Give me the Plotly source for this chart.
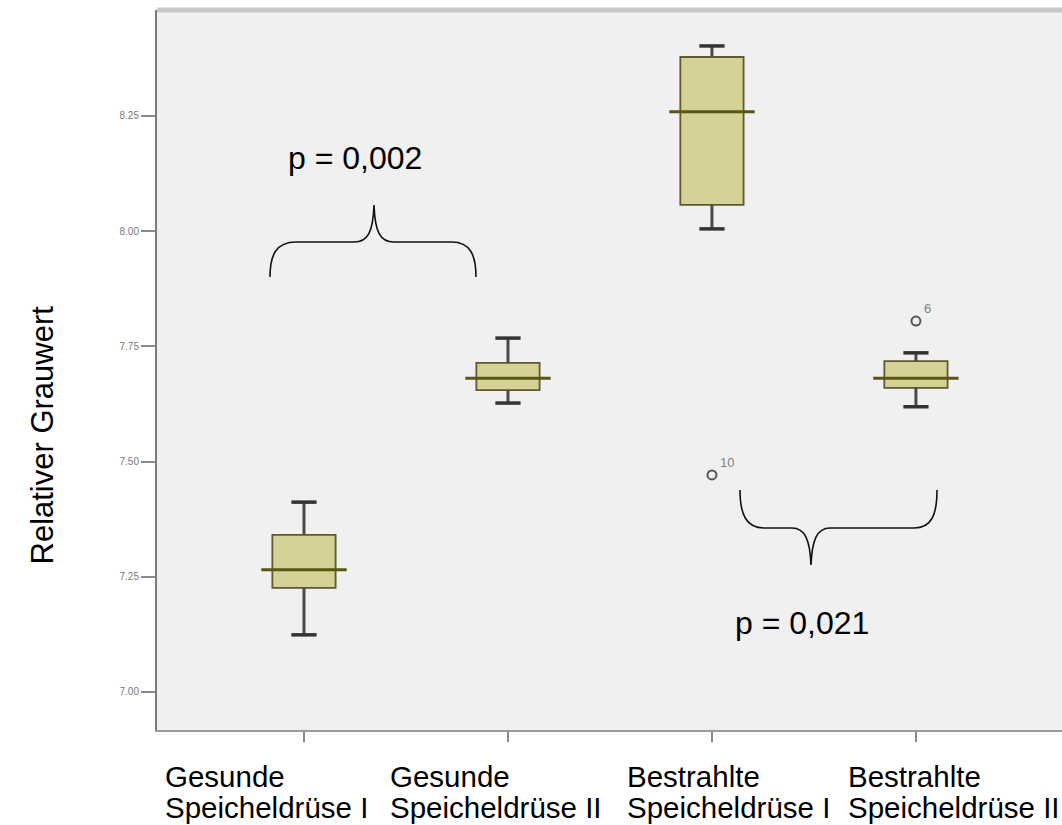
import plotly.graph_objects as go

categories = ["Gesunde Speicheldrüse I", "Gesunde Speicheldrüse II",
              "Bestrahlte Speicheldrüse I", "Bestrahlte Speicheldrüse II"]
label_line1 = ["Gesunde", "Gesunde", "Bestrahlte", "Bestrahlte"]
label_line2 = ["Speicheldrüse I", "Speicheldrüse II", "Speicheldrüse I", "Speicheldrüse II"]
lower_whisker = [7.124, 7.627, 8.005, 7.619]
q1 = [7.226, 7.655, 8.057, 7.660]
median = [7.265, 7.681, 8.259, 7.681]
q3 = [7.341, 7.714, 8.378, 7.718]
upper_whisker = [7.412, 7.768, 8.402, 7.736]
outlier_cat = [2, 3]
outlier_val = [7.471, 7.805]
outlier_id = ["10", "6"]
y_ticks = [7.00, 7.25, 7.50, 7.75, 8.00, 8.25]
p_values = ["p = 0,002", "p = 0,021"]

OFF = 0  # body margin removed via post_script
W, H = 1062, 825
L, R, T, B = 157, 0, 10, 95
x_range = [-0.7206, 3.716]
y_range = [6.9175, 8.48]

def px2x(px):
    return x_range[0] + (px - OFF - L) / (W - L - R) * (x_range[1] - x_range[0])

def px2y(py):
    return y_range[1] - (py - OFF - T) / (H - T - B) * (y_range[1] - y_range[0])

def ppx(px):
    return (px - OFF - L) / (W - L - R)

def ppy(py):
    return (H - B - (py - OFF)) / (H - T - B)

n = len(categories)
xs = list(range(n))
fig = go.Figure()
fill = "#d6d196"
edge = "#5e5a30"

# whiskers (dark grey, thick)
fig.add_trace(go.Scatter(
    x=xs, y=q3, mode="markers", marker=dict(size=1, color="rgba(0,0,0,0)"),
    error_y=dict(type="data", symmetric=False, array=[u - q for u, q in zip(upper_whisker, q3)],
                 arrayminus=[0] * n, width=0, thickness=3, color="#4a4a4a"),
    showlegend=False, hoverinfo="skip"))
fig.add_trace(go.Scatter(
    x=xs, y=q1, mode="markers", marker=dict(size=1, color="rgba(0,0,0,0)"),
    error_y=dict(type="data", symmetric=False, array=[0] * n,
                 arrayminus=[q - l for q, l in zip(q1, lower_whisker)], width=0, thickness=3, color="#4a4a4a"),
    showlegend=False, hoverinfo="skip"))

for i in range(n):
    fig.add_trace(go.Box(
        x=[i], q1=[q1[i]], median=[median[i]], q3=[q3[i]],
        lowerfence=[lower_whisker[i]], upperfence=[upper_whisker[i]],
        width=0.31, whiskerwidth=0.0, fillcolor=fill,
        line=dict(color=edge, width=1.8), boxpoints=False,
        showlegend=False, hoverinfo="skip"))

# thick median lines
fig.add_trace(go.Scatter(
    x=xs, y=median, mode="markers",
    marker=dict(symbol="line-ew", size=61, line=dict(color="#5a5415", width=3)),
    showlegend=False, hoverinfo="skip"))
# whisker caps
fig.add_trace(go.Scatter(
    x=xs * 2, y=lower_whisker + upper_whisker, mode="markers",
    marker=dict(symbol="line-ew", size=18, line=dict(color="#333333", width=3.5)),
    showlegend=False, hoverinfo="skip"))
# outliers
fig.add_trace(go.Scatter(
    x=outlier_cat, y=outlier_val, mode="markers",
    marker=dict(symbol="circle-open", size=9, color="#555555", line=dict(width=2)),
    showlegend=False, hoverinfo="skip"))
for c, v, t in zip(outlier_cat, outlier_val, outlier_id):
    fig.add_annotation(x=c, y=v, text=t, showarrow=False, xanchor="left", yanchor="bottom",
                       xshift=6, yshift=3, font=dict(family="Liberation Sans", size=13, color="#808080"))

# braces
b1 = (f"M {px2x(270)} {px2y(277)} C {px2x(270)} {px2y(255)}, {px2x(276)} {px2y(242)}, {px2x(296)} {px2y(242)} "
      f"L {px2x(354)} {px2y(242)} C {px2x(368)} {px2y(242)}, {px2x(373)} {px2y(232)}, {px2x(374)} {px2y(205)} "
      f"C {px2x(375)} {px2y(232)}, {px2x(380)} {px2y(242)}, {px2x(394)} {px2y(242)} "
      f"L {px2x(452)} {px2y(242)} C {px2x(470)} {px2y(242)}, {px2x(476)} {px2y(255)}, {px2x(476)} {px2y(277)}")
b2 = (f"M {px2x(740)} {px2y(490)} C {px2x(740)} {px2y(514)}, {px2x(746)} {px2y(528)}, {px2x(764)} {px2y(528)} "
      f"L {px2x(792)} {px2y(528)} C {px2x(805)} {px2y(528)}, {px2x(810)} {px2y(540)}, {px2x(811)} {px2y(565)} "
      f"C {px2x(812)} {px2y(540)}, {px2x(817)} {px2y(528)}, {px2x(830)} {px2y(528)} "
      f"L {px2x(914)} {px2y(528)} C {px2x(932)} {px2y(528)}, {px2x(937)} {px2y(514)}, {px2x(937)} {px2y(490)}")
for p in (b1, b2):
    fig.add_shape(type="path", path=p, xref="x", yref="y", line=dict(color="#111111", width=1.6))

fig.add_annotation(x=px2x(355), y=px2y(158), text=p_values[0], showarrow=False,
                   font=dict(family="Liberation Sans", size=32, color="black"))
fig.add_annotation(x=px2x(802), y=px2y(623), text=p_values[1], showarrow=False,
                   font=dict(family="Liberation Sans", size=32, color="black"))

# top frame band
fig.add_shape(type="line", xref="paper", yref="paper", x0=0, x1=1, y0=1, y1=1,
              line=dict(color="#c8c8c8", width=5))

# category labels
label_px = [163, 388, 625, 846]
for lp, t1, t2 in zip(label_px, label_line1, label_line2):
    for txt, yy in ((t1, 776), (t2, 807)):
        fig.add_annotation(xref="paper", yref="paper", x=ppx(lp), y=ppy(yy),
                           text=txt, showarrow=False, xanchor="left", yanchor="middle",
                           font=dict(family="Liberation Sans", size=29.5, color="black"))

fig.add_annotation(xref="paper", yref="paper", x=ppx(22), y=ppy(435),
                   text="Relativer Grauwert", textangle=-90, showarrow=False,
                   font=dict(family="Liberation Sans", size=31, color="black"))

fig.update_layout(
    width=W, height=H, margin=dict(l=L, r=R, t=T, b=B),
    paper_bgcolor="white", plot_bgcolor="#f0f0f0",
    xaxis=dict(range=x_range, tickmode="array", tickvals=xs,
               showticklabels=False, ticks="outside", ticklen=10, tickwidth=2, tickcolor="#888888",
               showline=True, linecolor="#9a9a9a", linewidth=2, showgrid=False, zeroline=False),
    yaxis=dict(range=y_range, tickmode="array", tickvals=y_ticks, tickformat=".2f",
               ticks="outside", ticklen=14, tickwidth=2, tickcolor="#8a8a8a",
               tickfont=dict(family="Liberation Sans", size=10, color="#7a7a7a"),
               showline=True, linecolor="#7a7a7a", linewidth=2, showgrid=False, zeroline=False),
)

fig.write_html("out.html", config={"displayModeBar": False},
               post_script="document.body.style.margin='0';document.body.style.overflow='hidden';")
